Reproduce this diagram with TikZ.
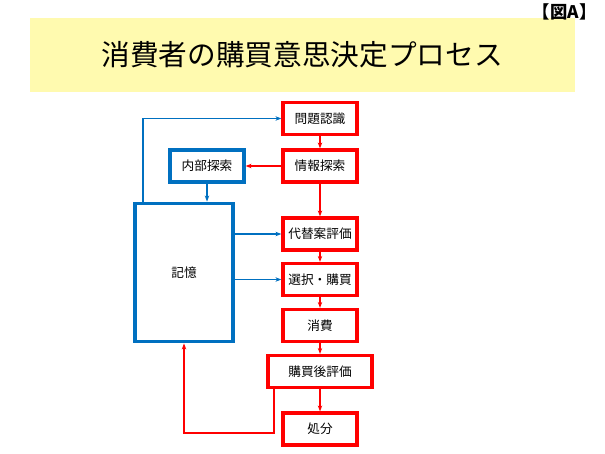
\documentclass[tikz,border=0pt]{standalone}
\usepackage{fontspec}
\setmainfont{Noto Sans CJK JP}
\usetikzlibrary{arrows.meta,positioning}
\definecolor{titleyellow}{RGB}{255,250,175}
\definecolor{memblue}{RGB}{0,112,192}
\definecolor{stepred}{RGB}{255,0,0}
\begin{document}
\begin{tikzpicture}[
        x=0.75pt, y=-0.75pt,
        stage/.style={draw=stepred, line width=2.4pt, fill=white, minimum width=55.5pt, minimum height=24pt, font=\fontsize{9.5}{11}\selectfont},
        mem/.style={draw=memblue, line width=2.4pt, fill=white, font=\fontsize{9.5}{11}\selectfont},
        redarrow/.style={-{Stealth[length=4.5pt]}, stepred, line width=1.2pt},
        bluearrow/.style={-{Stealth[length=4.5pt]}, memblue, line width=1.2pt}
    ]
        \useasboundingbox (0,0) rectangle (605,453);

        % Title
        \fill[titleyellow] (30,18) rectangle (575,92);
        \node (title) at (302,55) {\fontsize{21.5}{24}\selectfont 消費者の購買意思決定プロセス};
        \node[anchor=north east, inner sep=1pt] (tag) at (598,2) {\fontsize{13}{15}\selectfont\bfseries 【図A】};

        % Process steps
        \node[stage] (recog) at (320,118.5) {問題認識};
        \node[stage] (search) at (320,166) {情報探索};
        \node[stage] (evalalt) at (320,234) {代替案評価};
        \node[stage] (choice) at (320,279.5) {選択・購買};
        \node[stage] (consume) at (320,325.5) {消費};
        \node[stage, minimum width=78pt] (posteval) at (320,371.5) {購買後評価};
        \node[stage] (dispose) at (320,429) {処分};

        % Memory side
        \node[mem, minimum width=55.5pt, minimum height=24pt] (internal) at (207,166) {内部探索};
        \node[mem, minimum width=73.5pt, minimum height=104pt] (memory) at (184,272.5) {記憶};

        % Red flow
        \draw[redarrow] (recog) -- (search);
        \draw[redarrow] (search) -- (evalalt);
        \draw[redarrow] (evalalt) -- (choice);
        \draw[redarrow] (choice) -- (consume);
        \draw[redarrow] (consume) -- (posteval);
        \draw[redarrow] (posteval) -- (dispose);
        \draw[redarrow] (search) -- (internal);
        \coordinate (fb) at (274,433);
        \draw[redarrow] (posteval.south -| fb) -- (fb) -| (memory.south);

        % Blue flow
        \draw[bluearrow] (internal) -- (internal |- memory.north);
        \coordinate (up) at (143,203);
        \draw[bluearrow] (memory.north -| up) |- (recog.west);
        \draw[bluearrow] (memory.east |- evalalt) -- (evalalt.west);
        \draw[bluearrow] (memory.east |- choice) -- (choice.west);
    \end{tikzpicture}
\end{document}
